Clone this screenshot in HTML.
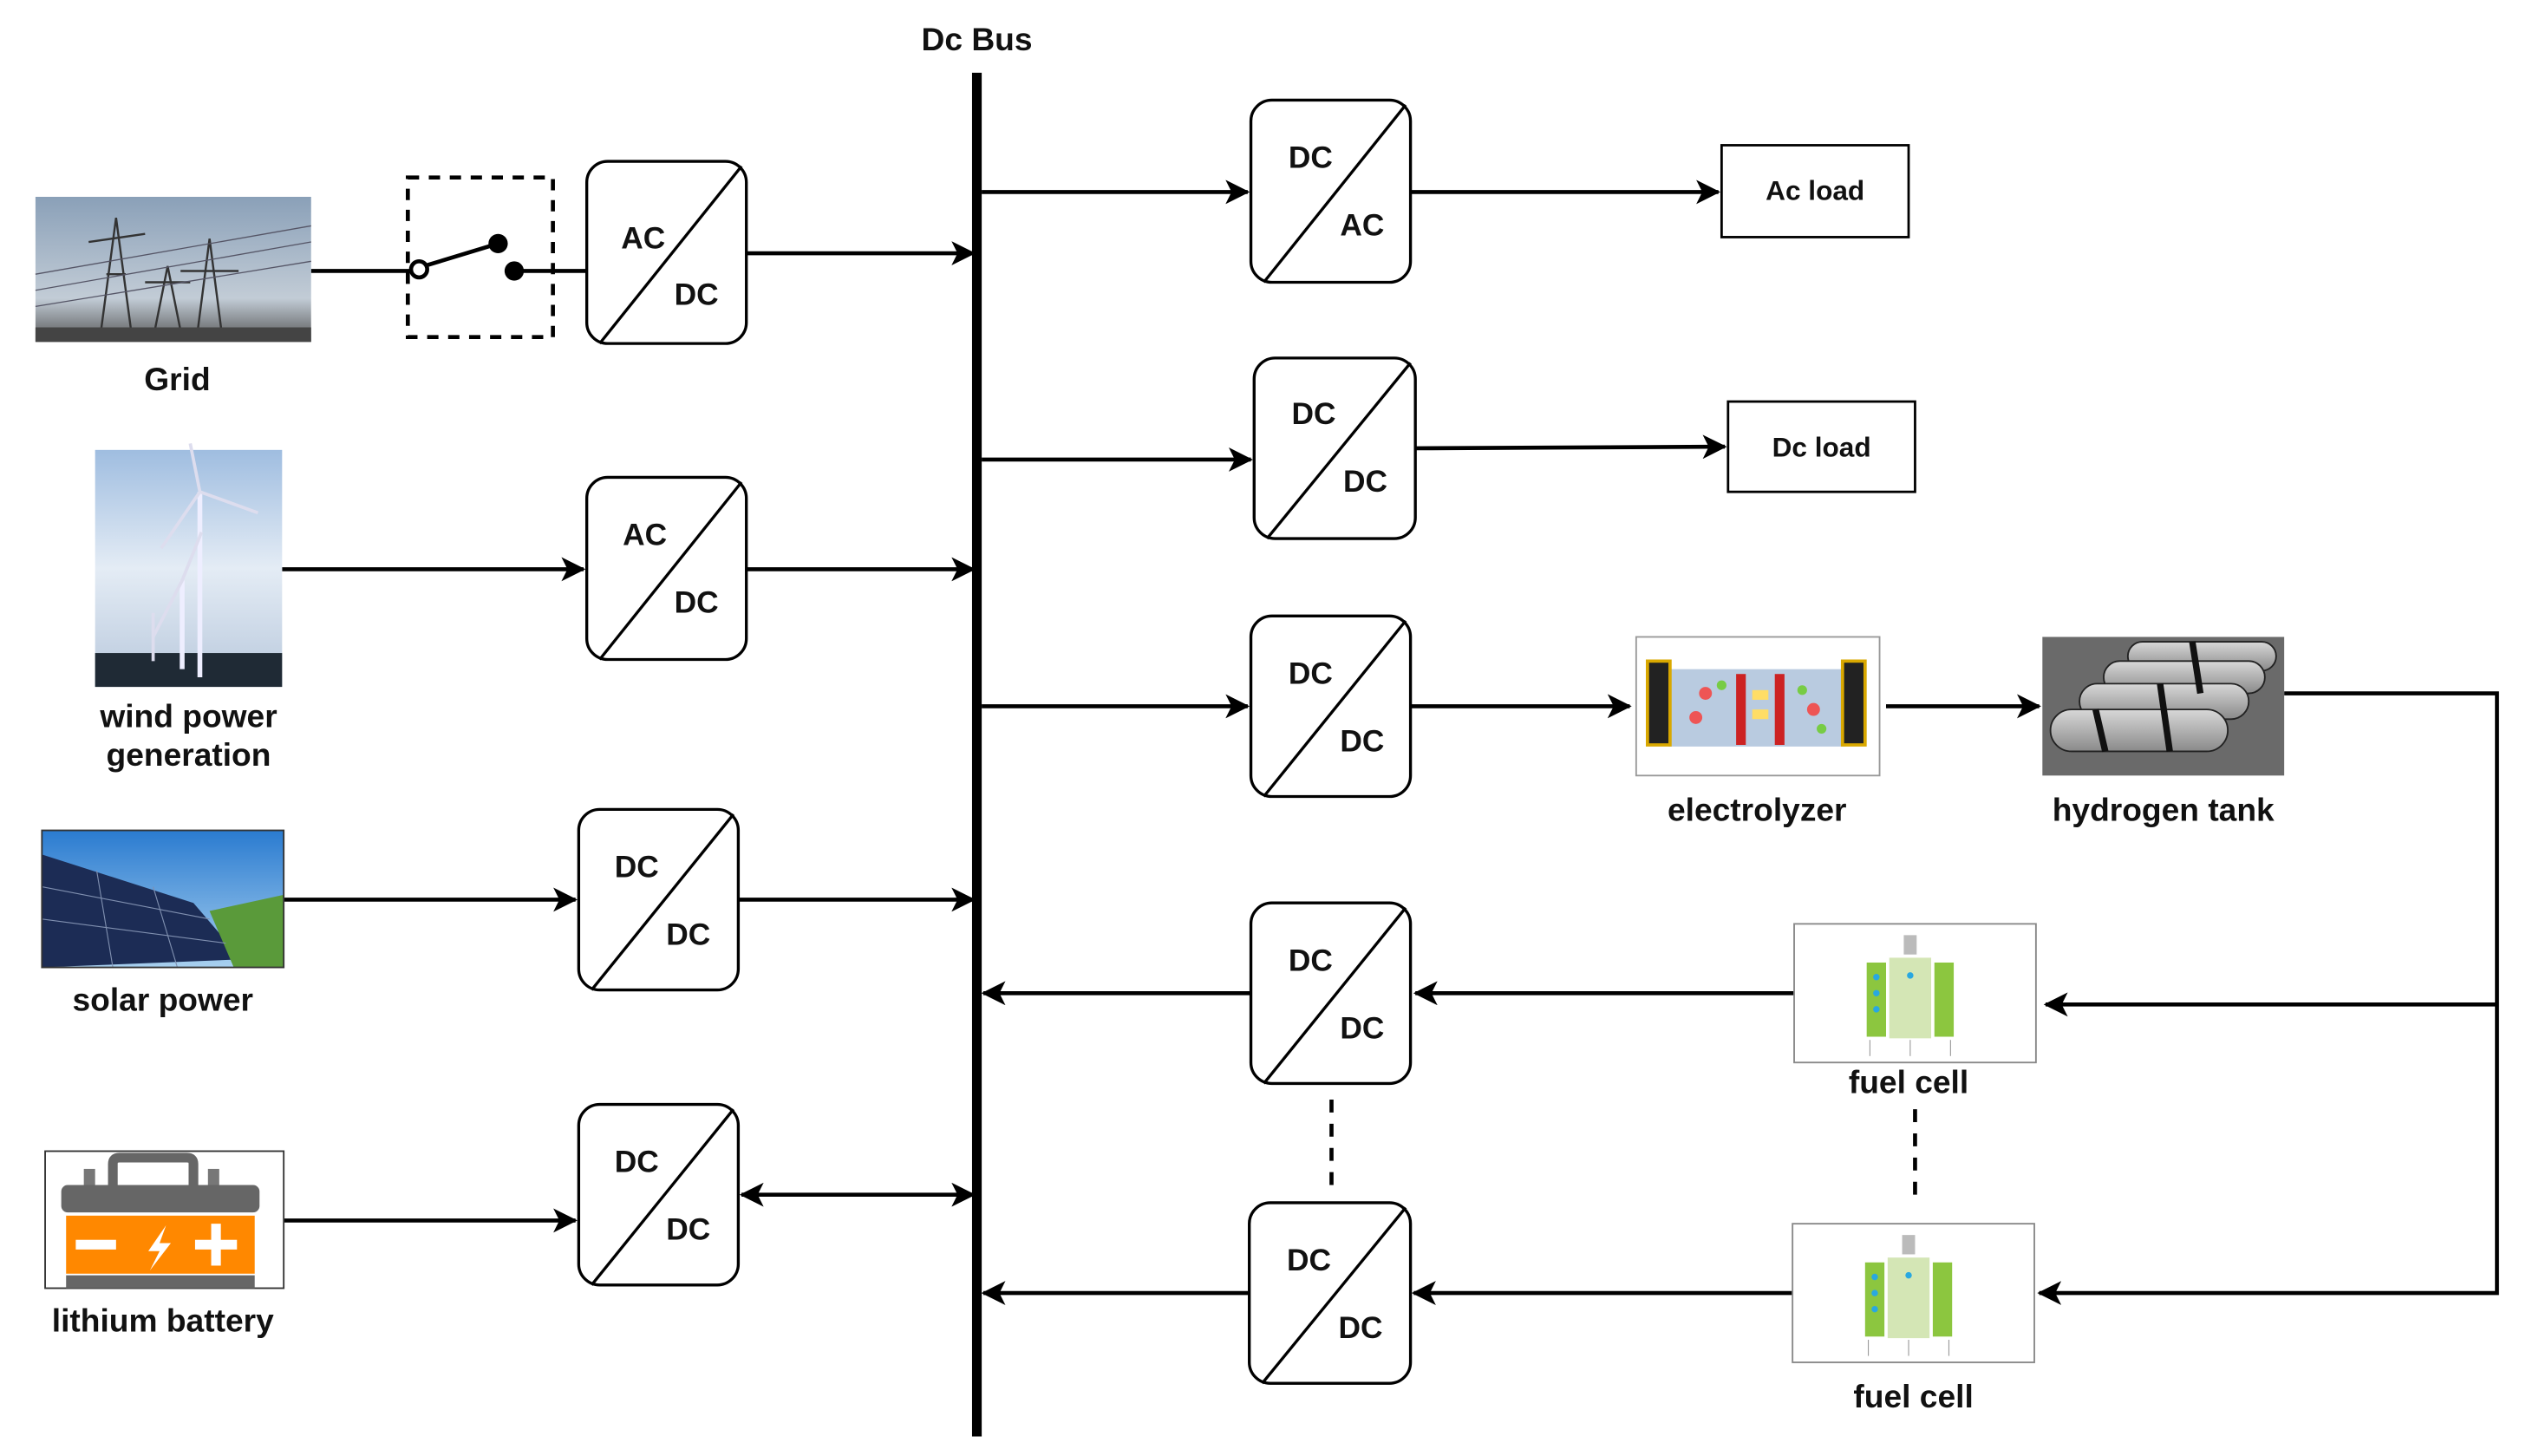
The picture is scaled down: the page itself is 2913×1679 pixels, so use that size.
<!DOCTYPE html>
<html><head><meta charset="utf-8"><style>html,body{margin:0;padding:0;background:#fff}svg{display:block}text{font-family:"Liberation Sans",Arial,sans-serif;font-weight:bold;fill:#111}</style></head>
<body>
<svg width="2913" height="1679" viewBox="0 0 1567 903" xmlns="http://www.w3.org/2000/svg">
<defs>
<marker id="a" viewBox="0 0 12 12" refX="11" refY="6" markerWidth="15" markerHeight="15" markerUnits="userSpaceOnUse" orient="auto-start-reverse"><path d="M0,0 L12,6 L0,12 L3,6 z" fill="#000"/></marker>
<linearGradient id="sky" x1="0" y1="0" x2="0" y2="1"><stop offset="0" stop-color="#8aa0b8"/><stop offset="0.7" stop-color="#c2ccd6"/><stop offset="1" stop-color="#555"/></linearGradient>
<linearGradient id="wsky" x1="0" y1="0" x2="0" y2="1"><stop offset="0" stop-color="#9fbde0"/><stop offset="0.5" stop-color="#e4ecf5"/><stop offset="1" stop-color="#b8c8dc"/></linearGradient>
<linearGradient id="ssky" x1="0" y1="0" x2="0" y2="1"><stop offset="0" stop-color="#2a7bd0"/><stop offset="1" stop-color="#a8d0ef"/></linearGradient>
<linearGradient id="tank" x1="0" y1="0" x2="0" y2="1"><stop offset="0" stop-color="#d8d8d8"/><stop offset="1" stop-color="#8a8a8a"/></linearGradient>
</defs>
<g stroke="#000" stroke-width="2.5" fill="none">
<line x1="606" y1="45" x2="606" y2="891" stroke-width="6"/>
<line x1="193" y1="168" x2="257" y2="168"/>
<rect x="253" y="110" width="90" height="99" stroke-dasharray="7,6" stroke-width="2.5"/>
<line x1="263" y1="165" x2="309" y2="151"/>
<line x1="319" y1="168" x2="364" y2="168"/>
<line x1="463" y1="157" x2="604" y2="157" marker-end="url(#a)"/>
<line x1="175" y1="353" x2="362" y2="353" marker-end="url(#a)"/>
<line x1="463" y1="353" x2="604" y2="353" marker-end="url(#a)"/>
<line x1="176" y1="558" x2="357" y2="558" marker-end="url(#a)"/>
<line x1="458" y1="558" x2="604" y2="558" marker-end="url(#a)"/>
<line x1="176" y1="757" x2="357" y2="757" marker-end="url(#a)"/>
<line x1="460" y1="741" x2="604" y2="741" marker-start="url(#a)" marker-end="url(#a)"/>
<line x1="609" y1="119" x2="774" y2="119" marker-end="url(#a)"/>
<line x1="875" y1="119" x2="1066" y2="119" marker-end="url(#a)"/>
<line x1="609" y1="285" x2="776" y2="285" marker-end="url(#a)"/>
<line x1="878" y1="278" x2="1070" y2="277" marker-end="url(#a)"/>
<line x1="609" y1="438" x2="774" y2="438" marker-end="url(#a)"/>
<line x1="875" y1="438" x2="1011" y2="438" marker-end="url(#a)"/>
<line x1="1170" y1="438" x2="1265" y2="438" marker-end="url(#a)"/>
<polyline points="1417,430 1549,430 1549,802 1265,802" marker-end="url(#a)"/>
<line x1="1549" y1="623" x2="1269" y2="623" marker-end="url(#a)"/>
<line x1="1113" y1="616" x2="878" y2="616" marker-end="url(#a)"/>
<line x1="776" y1="616" x2="610" y2="616" marker-end="url(#a)"/>
<line x1="1112" y1="802" x2="877" y2="802" marker-end="url(#a)"/>
<line x1="775" y1="802" x2="610" y2="802" marker-end="url(#a)"/>
<line x1="826" y1="682" x2="826" y2="740" stroke-dasharray="8,7"/>
<line x1="1188" y1="688" x2="1188" y2="746" stroke-dasharray="8,7"/>
<rect x="1068" y="90" width="116" height="57" stroke-width="1.5"/>
<rect x="1072" y="249" width="116" height="56" stroke-width="1.5"/>
</g>
<circle cx="260" cy="167" r="5" fill="#fff" stroke="#000" stroke-width="2.5"/>
<circle cx="309" cy="151" r="6" fill="#000"/>
<circle cx="319" cy="168" r="6" fill="#000"/>
<g stroke="#000" stroke-width="1.8" fill="#fff">
<rect x="364" y="100" width="99" height="113" rx="13"/><line x1="372" y1="213" x2="460" y2="103"/>
<rect x="364" y="296" width="99" height="113" rx="13"/><line x1="372" y1="409" x2="460" y2="299"/>
<rect x="359" y="502" width="99" height="112" rx="13"/><line x1="367" y1="614" x2="455" y2="505"/>
<rect x="359" y="685" width="99" height="112" rx="13"/><line x1="367" y1="797" x2="455" y2="688"/>
<rect x="776" y="62" width="99" height="113" rx="13"/><line x1="784" y1="175" x2="872" y2="65"/>
<rect x="778" y="222" width="100" height="112" rx="13"/><line x1="786" y1="334" x2="875" y2="225"/>
<rect x="776" y="382" width="99" height="112" rx="13"/><line x1="784" y1="494" x2="872" y2="385"/>
<rect x="776" y="560" width="99" height="112" rx="13"/><line x1="784" y1="672" x2="872" y2="563"/>
<rect x="775" y="746" width="100" height="112" rx="13"/><line x1="783" y1="858" x2="872" y2="749"/>
</g>
<g font-size="19" text-anchor="middle">
<text x="399" y="154">AC</text><text x="432" y="189">DC</text>
<text x="400" y="338">AC</text><text x="432" y="380">DC</text>
<text x="395" y="544">DC</text><text x="427" y="586">DC</text>
<text x="395" y="727">DC</text><text x="427" y="769">DC</text>
<text x="813" y="104">DC</text><text x="845" y="146">AC</text>
<text x="815" y="263">DC</text><text x="847" y="305">DC</text>
<text x="813" y="424">DC</text><text x="845" y="466">DC</text>
<text x="813" y="602">DC</text><text x="845" y="644">DC</text>
<text x="812" y="788">DC</text><text x="844" y="830">DC</text>
</g>
<g font-size="17" text-anchor="middle">
<text x="1126" y="124">Ac load</text>
<text x="1130" y="283">Dc load</text>
</g>
<g font-size="20" text-anchor="middle">
<text x="606" y="31">Dc Bus</text>
<text x="110" y="242">Grid</text>
<text x="117" y="451">wind power</text>
<text x="117" y="475">generation</text>
<text x="101" y="627">solar power</text>
<text x="101" y="826">lithium battery</text>
<text x="1090" y="509">electrolyzer</text>
<text x="1342" y="509">hydrogen tank</text>
<text x="1184" y="678">fuel cell</text>
<text x="1187" y="873">fuel cell</text>
</g>
<rect x="22" y="122" width="171" height="90" fill="url(#sky)"/>
<g stroke="#333" stroke-width="1.3" fill="none">
<path d="M62,210 L72,135 L82,210 M66,170 L78,170 M55,150 L90,145"/>
<path d="M95,210 L104,165 L113,210 M90,175 L118,175"/>
<path d="M122,210 L130,148 L138,210 M112,168 L148,168"/>
<path d="M22,180 L193,150 M22,190 L193,162 M22,170 L193,140" stroke="#556" stroke-width="0.7"/>
</g>
<rect x="22" y="203" width="171" height="9" fill="#444"/>
<rect x="59" y="279" width="116" height="147" fill="url(#wsky)"/>
<rect x="59" y="405" width="116" height="21" fill="#1f2a35"/>
<g stroke="#eef" stroke-width="3" fill="none"><line x1="124" y1="305" x2="124" y2="420"/><line x1="113" y1="360" x2="113" y2="415"/></g>
<g stroke="#dde" stroke-width="2" fill="none"><path d="M124,305 L118,275 M124,305 L160,318 M124,305 L100,340"/><path d="M113,360 L95,395 M113,360 L125,330"/><line x1="95" y1="380" x2="95" y2="410"/></g>
<rect x="26" y="515" width="150" height="85" fill="url(#ssky)"/>
<path d="M26,530 L120,560 L150,595 L26,600 Z" fill="#1c2c55"/>
<path d="M130,565 L176,555 L176,600 L145,600 Z" fill="#5a9a3a"/>
<g stroke="#8090b0" stroke-width="0.6"><line x1="26" y1="550" x2="130" y2="570"/><line x1="26" y1="570" x2="140" y2="585"/><line x1="60" y1="540" x2="70" y2="600"/><line x1="95" y1="550" x2="110" y2="600"/></g>
<rect x="26" y="515" width="150" height="85" fill="none" stroke="#333" stroke-width="1"/>
<rect x="28" y="714" width="148" height="85" fill="#fff" stroke="#333" stroke-width="1"/>
<path d="M70,738 L70,722 Q70,718 74,718 L116,718 Q120,718 120,722 L120,738" fill="none" stroke="#666" stroke-width="6"/>
<rect x="52" y="725" width="7" height="10" fill="#777"/><rect x="129" y="725" width="7" height="10" fill="#777"/>
<rect x="38" y="735" width="123" height="17" rx="4" fill="#666"/>
<rect x="41" y="754" width="117" height="36" fill="#ff8800"/>
<rect x="47" y="769" width="25" height="6" fill="#fff"/>
<rect x="121" y="769" width="26" height="6" fill="#fff"/><rect x="131" y="759" width="6" height="26" fill="#fff"/>
<path d="M103,760 L92,776 L99,776 L93,788 L106,771 L99,771 Z" fill="#fff"/>
<rect x="41" y="791" width="117" height="8" fill="#666"/>
<rect x="1015" y="395" width="151" height="86" fill="#fff" stroke="#999" stroke-width="1"/>
<rect x="1035" y="415" width="110" height="48" fill="#b9cbe0"/>
<rect x="1022" y="410" width="14" height="52" fill="#222" stroke="#d9a800" stroke-width="2"/>
<rect x="1143" y="410" width="14" height="52" fill="#222" stroke="#d9a800" stroke-width="2"/>
<rect x="1077" y="418" width="6" height="44" fill="#c22"/><rect x="1101" y="418" width="6" height="44" fill="#c22"/>
<g fill="#e55"><circle cx="1058" cy="430" r="4"/><circle cx="1052" cy="445" r="4"/><circle cx="1125" cy="440" r="4"/></g>
<g fill="#7c4"><circle cx="1068" cy="425" r="3"/><circle cx="1118" cy="428" r="3"/><circle cx="1130" cy="452" r="3"/></g>
<rect x="1087" y="428" width="10" height="6" fill="#fd6"/><rect x="1087" y="440" width="10" height="6" fill="#fd6"/>
<rect x="1267" y="395" width="150" height="86" fill="#6a6a6a"/>
<g fill="url(#tank)" stroke="#222" stroke-width="1">
<rect x="1320" y="398" width="92" height="18" rx="9"/>
<rect x="1305" y="410" width="100" height="20" rx="10"/>
<rect x="1290" y="424" width="105" height="22" rx="11"/>
<rect x="1272" y="440" width="110" height="26" rx="13"/>
</g>
<g stroke="#111" stroke-width="4"><line x1="1300" y1="440" x2="1306" y2="466"/><line x1="1340" y1="424" x2="1346" y2="466"/><line x1="1360" y1="398" x2="1365" y2="430"/></g>
<g id="fc">
<rect x="1113" y="573" width="150" height="86" fill="#fff" stroke="#888" stroke-width="1"/>
<rect x="1158" y="597" width="12" height="46" fill="#8cc63f"/>
<rect x="1200" y="597" width="12" height="46" fill="#8cc63f"/>
<rect x="1172" y="594" width="26" height="50" fill="#d4e6b5"/>
<rect x="1181" y="580" width="8" height="12" fill="#bbb"/>
<g fill="#29a8e0"><circle cx="1164" cy="606" r="2"/><circle cx="1164" cy="616" r="2"/><circle cx="1164" cy="626" r="2"/><circle cx="1185" cy="605" r="2"/></g>
<g stroke="#999" stroke-width="0.6"><line x1="1160" y1="645" x2="1160" y2="655"/><line x1="1185" y1="645" x2="1185" y2="655"/><line x1="1210" y1="645" x2="1210" y2="655"/></g>
</g>
<use href="#fc" x="-1" y="186"/>
</svg>
</body></html>
